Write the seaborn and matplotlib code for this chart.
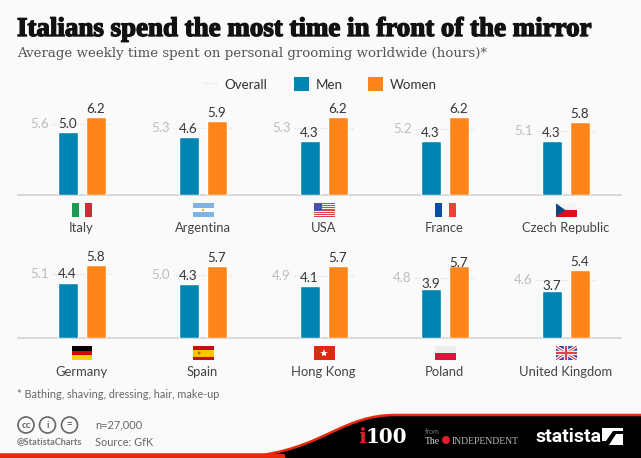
import numpy as np
import pandas as pd
import matplotlib
matplotlib.use("Agg")
import matplotlib.pyplot as plt
import matplotlib.patheffects as pe
import seaborn as sns
from matplotlib.lines import Line2D
from matplotlib.patches import Patch, Rectangle, Polygon, PathPatch, Circle
from matplotlib.path import Path

countries = ["Italy", "Argentina", "USA", "France", "Czech Republic",
             "Germany", "Spain", "Hong Kong", "Poland", "United Kingdom"]
overall = [5.6, 5.3, 5.3, 5.2, 5.1, 5.1, 5.0, 4.9, 4.8, 4.6]
men = [5.0, 4.6, 4.3, 4.3, 4.3, 4.4, 4.3, 4.1, 3.9, 3.7]
women = [6.2, 5.9, 6.2, 6.2, 5.8, 5.8, 5.7, 5.7, 5.7, 5.4]
genders = ["Men", "Women"]
title = "Italians spend the most time in front of the mirror"
subtitle = "Average weekly time spent on personal grooming worldwide (hours)*"
footnote = "* Bathing, shaving, dressing, hair, make-up"

BLUE, ORANGE = "#0085B3", "#FF851A"
W, H = 641, 458
BG = "#FAFAFA"
sns.set_theme(style="white")
plt.rcParams["font.family"] = ["Lato", "DejaVu Sans"]

fig = plt.figure(figsize=(W / 100, H / 100), dpi=100, facecolor=BG)

def px_axes(x0, y_top, w, h, **kw):
    return fig.add_axes([x0 / W, 1 - (y_top + h) / H, w / W, h / H], **kw)

# overlay in pixel coordinates for titles and the branded footer
ov = fig.add_axes([0, 0, 1, 1], zorder=0)
ov.set_xlim(0, W); ov.set_ylim(H, 0); ov.axis("off")

t = ov.text(17, 29.5, title, fontsize=19.4, fontweight="bold", family="Liberation Serif",
            color="#111111", va="center", ha="left")
t.set_path_effects([pe.withStroke(linewidth=1.0, foreground="#111111")])
ov.text(17, 53, subtitle, fontsize=9.6, family="DejaVu Serif", color="#555555", va="center", ha="left")
ov.text(17, 394, footnote, fontsize=7.8, color="#666666", va="center")
ov.text(95, 425, "n=27,000", fontsize=7.9, color="#666666", va="center")
ov.text(95, 442, "Source: GfK", fontsize=7.9, color="#666666", va="center")
ov.text(17, 442, "@StatistaCharts", fontsize=6.6, color="#777777", va="center", fontweight="bold")

# cc icons
for cx, lab in zip([26, 47.5, 69.5], ["cc", "i", "="]):
    ov.add_patch(Circle((cx, 425), 8, fc="none", ec="#666666", lw=1.2))
    ov.text(cx, 425, lab, fontsize=7, fontweight="bold", color="#666666", ha="center", va="center")

# footer swoosh
verts = [(W + 10, 415), (395, 415), (345, 415), (325, 445), (265, 454.5), (-5, 454.5), (-5, H + 5), (W + 10, H + 5), (W + 10, 415)]
codes = [Path.MOVETO, Path.LINETO, Path.CURVE4, Path.CURVE4, Path.CURVE4, Path.LINETO, Path.LINETO, Path.LINETO, Path.CLOSEPOLY]
ov.add_patch(PathPatch(Path(verts, codes), fc="#000000", ec="#E8290B", lw=1.8))
ov.add_patch(Rectangle((0, 454), 285, 4, fc="#E8290B", ec="none"))

ov.text(358, 437, "i", fontsize=15, fontweight="bold", family="DejaVu Serif", color="#E01E2B", ha="left", va="center")
ov.text(366, 437, "100", fontsize=14.4, fontweight="bold", family="DejaVu Serif", color="white", ha="left", va="center")
ov.text(425, 431, "from", fontsize=5, color="#777777", va="center")
ov.text(425, 441, "The", fontsize=7, family="Liberation Serif", color="#DDDDDD", va="center")
ov.add_patch(Circle((446, 440), 4, fc="#E01E2B", ec="none"))
ov.text(452, 441, "INDEPENDENT", fontsize=6.9, family="Liberation Serif", color="#BBBBBB", va="center")
ov.text(535, 437, "statista", fontsize=14, fontweight="bold", family="Roboto", color="white", va="center")
ov.add_patch(Rectangle((602, 428), 21, 17, fc="white", ec="none"))
ov.add_patch(Polygon([(602, 445), (609, 445), (616, 434), (623, 434), (623, 431), (613, 431), (606, 441), (602, 441)], fc="black", ec="none"))

# flags
def flag_axes(i):
    row, col = divmod(i, 5)
    fa = px_axes(71.5 + 121 * col, 203 + 143 * row, 21, 14, zorder=2)
    fa.set_xlim(0, 3); fa.set_ylim(0, 2); fa.axis("off")
    return fa

def stripes_v(a, cols):
    for k, c in enumerate(cols):
        a.add_patch(Rectangle((k, 0), 1, 2, fc=c, ec="none"))

def stripes_h(a, fracs, cols):
    y = 2
    for f, c in zip(fracs, cols):
        a.add_patch(Rectangle((0, y - 2 * f), 3, 2 * f, fc=c, ec="none"))
        y -= 2 * f

def draw_flag(name, a):
    a.add_patch(Rectangle((0, 0), 3, 2, fc="#F4F4F4", ec="none"))
    if name == "Italy":
        stripes_v(a, ["#1F9A55", "#F7F7F7", "#CE2B37"])
    elif name == "Argentina":
        stripes_h(a, [1/3, 1/3, 1/3], ["#7FB2E5", "#FFFFFF", "#7FB2E5"])
        a.add_patch(Circle((1.5, 1), .17, fc="#F6B40E", ec="none"))
    elif name == "USA":
        for k in range(7):
            a.add_patch(Rectangle((0, 2 - (k * 2 + 1) * 2 / 13), 3, 2 / 13, fc="#E0404A", ec="none"))
        a.add_patch(Rectangle((0, 2 - 2 * 7 / 13), 1.25, 2 * 7 / 13, fc="#4A4FA8", ec="none"))
    elif name == "France":
        stripes_v(a, ["#0B4EA2", "#F7F7F7", "#EF4135"])
    elif name == "Czech Republic":
        stripes_h(a, [.5, .5], ["#F4F4F4", "#D7141A"])
        a.add_patch(Polygon([(0, 0), (1.4, 1), (0, 2)], fc="#11457E", ec="none"))
    elif name == "Germany":
        stripes_h(a, [1/3, 1/3, 1/3], ["#000000", "#DD0000", "#FFCE00"])
    elif name == "Spain":
        stripes_h(a, [.25, .5, .25], ["#C60B1E", "#FFC400", "#C60B1E"])
        a.add_patch(Circle((.95, 1), .2, fc="#AD6A1A", ec="none"))
    elif name == "Hong Kong":
        a.add_patch(Rectangle((0, 0), 3, 2, fc="#DE2910", ec="none"))
        a.plot([1.5], [1], marker="*", ms=6, color="white", mew=0)
    elif name == "Poland":
        stripes_h(a, [.5, .5], ["#EEEEEE", "#DC143C"])
    else:
        a.add_patch(Rectangle((0, 0), 3, 2, fc="#2B4BA8", ec="none"))
        a.plot([0, 3], [0, 2], color="white", lw=2.4); a.plot([0, 3], [2, 0], color="white", lw=2.4)
        a.plot([0, 3], [0, 2], color="#E0404A", lw=.8); a.plot([0, 3], [2, 0], color="#E0404A", lw=.8)
        a.plot([1.5, 1.5], [0, 2], color="white", lw=3.2); a.plot([0, 3], [1, 1], color="white", lw=3.2)
        a.plot([1.5, 1.5], [0, 2], color="#E0404A", lw=1.6); a.plot([0, 3], [1, 1], color="#E0404A", lw=1.6)

PX_PER_UNIT = 12.6
label_pads = {"Poland": (-0.5, -2), "United Kingdom": (-0.5, 1.5)}
for i, name in enumerate(countries):
    row, col = divmod(i, 5)
    base = 195 + 143 * row
    ax = px_axes(21 + 121 * col, base - 100, 121, 100, zorder=1)
    ax.patch.set_alpha(0)
    df = pd.DataFrame({"gender": genders, "hours": [men[i], women[i]]})
    sns.barplot(data=df, x="gender", y="hours", hue="gender", palette=[BLUE, ORANGE], saturation=1,
                width=20 / 28, dodge=False, legend=False, ax=ax, zorder=3)
    ax.set_xlim(0.5 - 121 / 56, 0.5 + 121 / 56)
    ax.set_ylim(0, 100 / PX_PER_UNIT)
    ax.axis("off")
    pads = label_pads.get(name, (1.5, 1.5))
    for c, cont in enumerate(ax.containers):
        ax.bar_label(cont, fmt="%.1f", padding=pads[c], fontsize=9.6, color="#333333", zorder=5)
    ax.plot([-0.57, 1.57], [overall[i]] * 2, color="#DDDDDD", lw=.9, ls=(0, (1, 1.2)), zorder=1)
    ax.text(-0.68, overall[i], f"{overall[i]:.1f}", color="#BDBDBD", fontsize=9.6, ha="right", va="center")
    ov.text(81.5 + 121 * col, 228 + 144 * row, name, fontsize=9.4, color="#444444", ha="center", va="center")
    draw_flag(name, flag_axes(i))

# baselines
for y in (195, 338):
    ov.plot([17, 622], [y, y], color="#D9D9D9", lw=1.4, solid_capstyle="butt", zorder=0)

handles = [Line2D([], [], color="#E4E4E4", lw=1, ls=(0, (1, 1.2))),
           Patch(fc=BLUE, ec="none"), Patch(fc=ORANGE, ec="none")]
fig.legend(handles, ["Overall", "Men", "Women"], ncol=3, frameon=False, fontsize=9.6,
           loc="center left", bbox_to_anchor=(203 / W, 1 - 84 / H), borderpad=0, borderaxespad=0,
           handlelength=1.13, handleheight=1.13, handletextpad=.5, columnspacing=1.95, labelcolor="#333333")

fig.savefig("out.png", dpi=100, facecolor=BG)
